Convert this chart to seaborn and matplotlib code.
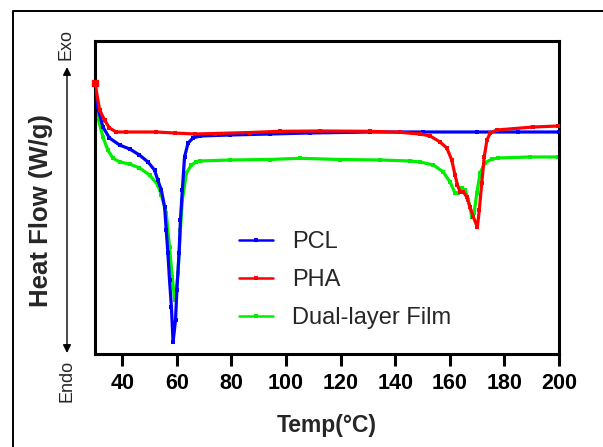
import matplotlib
matplotlib.use("Agg")
import matplotlib.pyplot as plt
import seaborn as sns
import pandas as pd
from matplotlib.lines import Line2D

# ---- data (arbitrary heat-flow units) ----
pcl_temp = [30, 31.0, 32.9, 35.3, 39.0, 42.7, 46.3, 49.4, 51.8, 53.0, 54.3, 55.5, 56.1, 56.7,
            57.3, 58.0, 58.6, 59.5, 60.0, 60.8, 61.3, 62.0, 62.8, 64.1, 65.9, 68.4, 79.4,
            94.0, 108.7, 130.7, 150, 170, 185, 200]
pcl_flow = [2.69, 2.47, 2.27, 2.16, 2.09, 2.05, 1.99, 1.92, 1.84, 1.74, 1.64, 1.47, 1.24, 1.01,
            0.74, 0.47, 0.12, 0.34, 0.64, 1.01, 1.34, 1.64, 1.97, 2.11, 2.16, 2.18, 2.19,
            2.20, 2.21, 2.22, 2.22, 2.22, 2.22, 2.22]

pha_temp = [30, 31.7, 33.5, 35.3, 37.8, 41.4, 52.5, 59.2, 66.5, 73.8, 86.7, 97.7, 112.4, 130.7,
            141.7, 149.1, 152.8, 156.4, 158.9, 160.7, 161.9, 162.8, 163.8, 165.0, 166.2, 167.4,
            168.6, 170.1, 170.8, 171.7, 172.6, 173.6, 174.8, 177.2, 190.6, 199.7]
pha_flow = [2.71, 2.44, 2.34, 2.26, 2.22, 2.22, 2.22, 2.21, 2.20, 2.205, 2.215, 2.227, 2.23, 2.227,
            2.217, 2.20, 2.18, 2.12, 2.06, 1.94, 1.79, 1.69, 1.62, 1.62, 1.57, 1.47,
            1.37, 1.27, 1.44, 1.71, 1.97, 2.14, 2.21, 2.24, 2.27, 2.28]

dual_temp = [30, 31.0, 32.9, 34.7, 36.5, 39.0, 42.7, 46.3, 50.0, 53.0, 54.3, 56.1, 57.3, 58.3,
             59.2, 59.8, 60.4, 61.3, 62.0, 63.5, 65.3, 67.1, 68.3, 79.4, 94.0, 105.0, 119.7,
             134.4, 145.4, 149.1, 154.0, 157.6, 160.1, 161.9, 163.1, 164.4, 165.6, 166.8, 168.1,
             168.9, 169.9, 171.1, 172.8, 175.4, 177.8, 189.4, 199.7]
dual_flow = [2.67, 2.37, 2.17, 2.04, 1.96, 1.92, 1.90, 1.86, 1.79, 1.69, 1.59, 1.41, 1.07, 0.77,
             0.54, 0.64, 0.81, 1.24, 1.54, 1.81, 1.89, 1.92, 1.93, 1.94, 1.945, 1.957, 1.945,
             1.94, 1.93, 1.92, 1.89, 1.82, 1.72, 1.61, 1.61, 1.66, 1.64, 1.54, 1.37,
             1.41, 1.61, 1.81, 1.91, 1.95, 1.96, 1.97, 1.97]

series_names = ["PCL", "PHA", "Dual-layer Film"]
series_colors = ["#0000ff", "#ff0000", "#00ee00"]
x_ticks = [40, 60, 80, 100, 120, 140, 160, 180, 200]

# ---- style ----
sns.set_style("white")
plt.rcParams["font.family"] = ["Liberation Sans", "DejaVu Sans"]

W, H = 603, 447
fig = plt.figure(figsize=(W / 100, H / 100), dpi=100)
ax = fig.add_axes([95 / W, 1 - 354 / H, (559 - 95) / W, (354 - 40.7) / H])

data = [(pcl_temp, pcl_flow), (pha_temp, pha_flow), (dual_temp, dual_flow)]
zorders = [3, 4, 2]
for (tx, fy), name, col, z in zip(data, series_names, series_colors, zorders):
    df = pd.DataFrame({"Temp": tx, "Flow": fy})
    sns.lineplot(data=df, x="Temp", y="Flow", ax=ax, color=col, linewidth=2.3,
                 marker="s", markersize=2.5, markeredgewidth=0, sort=False,
                 estimator=None, label=name, zorder=z)

# larger start marker on PHA
ax.plot([pha_temp[0]], [pha_flow[0]], "s", color=series_colors[1], ms=5, clip_on=False, zorder=5)

ax.set_xlim(30, 200)
ax.set_ylim(0, 3.133)
ax.set_xticks(x_ticks)
ax.set_xticklabels([str(t) for t in x_ticks])
ax.set_yticks([])
for sp in ax.spines.values():
    sp.set_visible(True)
    sp.set_color("black")
    sp.set_linewidth(2.2)
ax.tick_params(axis="x", direction="out", length=8.5, width=2.2, pad=5.5,
               labelsize=15.5, bottom=True, colors="black")
for lbl in ax.get_xticklabels():
    lbl.set_fontweight("bold")

ax.set_xlabel("Temp(°C)", fontsize=16.5, fontweight="bold", labelpad=14)
ax.set_ylabel("Heat Flow (W/g)", fontsize=18.5, fontweight="bold")
ax.yaxis.label.set_va("center")
ax.yaxis.label.set_ha("center")
ax.yaxis.set_label_coords((41 - 95) / 464, 1 - (211 - 40.7) / 313.3)

leg = ax.legend(loc="center left", bbox_to_anchor=((239 - 95) / 464, 1 - (280 - 40.7) / 313.3),
                frameon=False, fontsize=17, handlelength=1.45, handletextpad=0.8,
                labelspacing=0.68, borderpad=0, borderaxespad=0)
for h in leg.get_lines():
    h.set_linewidth(1.8)

# Exo / Endo arrow
def fx(px):
    return px / W

def fy_(py):
    return 1 - py / H

ax.annotate("", xy=(fx(67), fy_(67)), xytext=(fx(67), fy_(353)), xycoords="figure fraction",
            textcoords="figure fraction",
            arrowprops=dict(arrowstyle="<|-|>", color="black", lw=1.0, mutation_scale=12,
                            shrinkA=0, shrinkB=0), annotation_clip=False)
fig.text(fx(66), fy_(44), "Exo", rotation=90, ha="center", va="center", fontsize=13)
fig.text(fx(67), fy_(381), "Endo", rotation=90, ha="center", va="center", fontsize=13)

# outer frame (top and left edges)
fig.add_artist(Line2D([fx(12.7), fx(12.7), 1.0], [0.0, fy_(11), fy_(11)], color="black",
                      lw=1.4, transform=fig.transFigure))

fig.savefig("out.png", dpi=100, facecolor="white")
